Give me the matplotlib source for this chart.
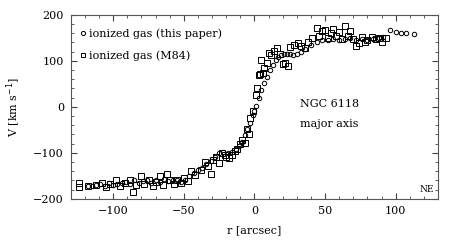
import numpy as np
import matplotlib.pyplot as plt
from matplotlib.ticker import MultipleLocator

# ionized gas, this paper (circles)
circ_r = [-118, -115, -112, -109, -106, -103, -100, -97, -94, -91, -88, -85, -82, -79,
          -76, -73, -70, -67, -64, -61, -58, -55, -52, -49, -46, -43, -40, -37, -34,
          -31, -28, -25, -22, -19, -16, -13, -11, -9, -7, -5, -3, -1, 0, 1, 3, 5, 7,
          9, 11, 13, 15, 17, 19, 21, 23, 25, 27, 30, 33, 36, 40, 44, 48, 52, 56, 60,
          64, 68, 72, 76, 80, 84, 88, 91, 96, 100, 104, 107, 113]
circ_v = [-173, -172, -170, -168, -172, -165, -170, -167, -165, -163, -168, -160, -165,
          -162, -158, -166, -160, -163, -157, -162, -158, -160, -163, -158, -150, -143,
          -137, -132, -125, -118, -108, -100, -97, -100, -98, -92, -86, -76, -62, -48,
          -34, -18, -8, 2, 20, 36, 52, 66, 80, 92, 102, 108, 112, 114, 115, 114, 113,
          114, 120, 126, 134, 140, 145, 146, 148, 145, 148, 150, 146, 148, 146, 148,
          150, 152, 168, 162, 160, 160, 158]

# ionized gas, M84 (squares)
sq_r = [-124, -124, -118, -112, -108, -105, -102, -98, -95, -92, -88, -86, -84, -80,
        -78, -75, -72, -70, -67, -65, -62, -60, -57, -55, -52, -50, -47, -45, -42, -38,
        -35, -33, -31, -29, -27, -25, -23, -21, -20, -18, -16, -14, -12, -10, -9, -7,
        -5, -4, -3, -1, 1, 2, 3, 4, 5, 6, 7, 9, 10, 12, 14, 16, 18, 20, 22, 24, 25,
        28, 31, 33, 36, 38, 41, 44, 46, 48, 50, 52, 54, 56, 58, 60, 62, 64, 66, 68,
        70, 72, 74, 76, 78, 80, 83, 86, 88, 90, 93]
sq_v = [-166, -175, -172, -170, -165, -175, -168, -160, -172, -165, -158, -185, -170,
        -150, -168, -160, -172, -163, -150, -170, -145, -160, -168, -158, -165, -155,
        -162, -140, -148, -138, -120, -128, -145, -115, -110, -123, -100, -105, -108,
        -112, -104, -96, -92, -80, -72, -78, -48, -60, -25, -10, 25, 40, 70, 72, 102,
        73, 85, 95, 118, 112, 122, 128, 115, 93, 95, 88, 130, 135, 138, 132, 128, 140,
        150, 172, 155, 165, 168, 150, 160, 170, 155, 162, 148, 175, 155, 165, 148, 132,
        138, 152, 140, 146, 152, 148, 150, 140, 150]

legend_labels = ['ionized gas (this paper)', 'ionized gas (M84)']
font = 'DejaVu Serif'

fig = plt.figure(figsize=(4.63, 2.48), dpi=100)
ax = fig.add_axes([0.153, 0.198, 0.793, 0.742])

ax.plot(circ_r, circ_v, 'o', mfc='none', mec='black', ms=3.2, mew=0.7)
ax.plot(sq_r, sq_v, 's', mfc='none', mec='black', ms=4.2, mew=0.7)

# legend drawn by hand
ax.plot([0.033], [0.90], 'o', mfc='none', mec='black', ms=3.0, mew=0.7,
        transform=ax.transAxes)
ax.plot([0.033], [0.78], 's', mfc='none', mec='black', ms=3.2, mew=0.7,
        transform=ax.transAxes)
ax.text(0.05, 0.90, legend_labels[0], transform=ax.transAxes, family=font,
        fontsize=8, va='center')
ax.text(0.05, 0.78, legend_labels[1], transform=ax.transAxes, family=font,
        fontsize=8, va='center')

ax.set_xlim(-130, 130)
ax.set_ylim(-200, 200)
ax.xaxis.set_major_locator(MultipleLocator(50))
ax.xaxis.set_minor_locator(MultipleLocator(10))
ax.yaxis.set_major_locator(MultipleLocator(100))
ax.yaxis.set_minor_locator(MultipleLocator(20))
ax.tick_params(which='both', direction='in', top=True, right=True, labelsize=8,
               color='#444444', pad=5)
ax.tick_params(which='major', length=4)
ax.tick_params(which='minor', length=2)
for s in ax.spines.values():
    s.set_color('#555555')
    s.set_linewidth(0.8)
for lab in ax.get_xticklabels() + ax.get_yticklabels():
    lab.set_family(font)

ax.set_xlabel('r [arcsec]', family=font, fontsize=8, labelpad=7)
ax.set_ylabel('V [km s$^{-1}$]', family=font, fontsize=8, labelpad=7)

ax.text(0.625, 0.5, 'NGC 6118', transform=ax.transAxes, family=font, fontsize=8)
ax.text(0.625, 0.39, 'major axis', transform=ax.transAxes, family=font, fontsize=8)
ax.text(0.99, 0.04, 'NE', transform=ax.transAxes, family=font, fontsize=6.5,
        ha='right')

fig.savefig('out.png', dpi=100)
